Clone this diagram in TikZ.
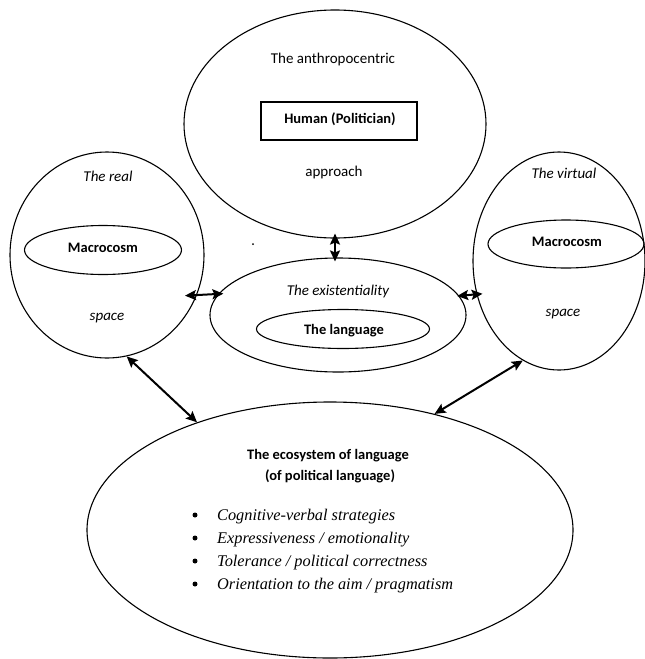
\documentclass[tikz,border=0pt]{standalone}
\usepackage{fontspec}
\setmainfont{Carlito}
\newfontfamily\tnr{Liberation Serif}
\usetikzlibrary{shapes.geometric,arrows.meta}
\begin{document}
\begin{tikzpicture}[x=1pt,y=-1pt,
  oval/.style={draw, ellipse, line width=1.1pt, inner sep=0pt},
  lbl/.style={anchor=base, inner sep=0pt, font=\fontsize{15}{18}\selectfont},
  blbl/.style={anchor=base, inner sep=0pt, font=\fontsize{14.5}{18}\selectfont\bfseries},
  ilbl/.style={anchor=base, inner sep=0pt, font=\fontsize{15}{18}\selectfont\itshape},
  item/.style={anchor=base west, inner sep=0pt, font=\tnr\fontsize{16.3}{19}\selectfont\itshape},
  bul/.style={circle, fill, inner sep=0pt, minimum size=5pt},
  link/.style={line width=2pt, {Stealth[length=11pt,width=10pt,inset=2pt]}-{Stealth[length=11pt,width=10pt,inset=2pt]}}
]
\useasboundingbox (0,0) rectangle (645,659);

% ellipses
\node[oval, minimum width=302pt, minimum height=228pt] (T) at (335,124) {};
\node[oval, minimum width=194pt, minimum height=206pt] (L) at (107,255) {};
\node[oval, minimum width=172pt, minimum height=218pt] (R) at (559,261) {};
\node[oval, minimum width=256pt, minimum height=114pt] (M) at (338,315) {};
\node[oval, minimum width=486pt, minimum height=256pt] (B) at (330,530) {};

% inner shapes
\node[draw, line width=1.1pt, minimum width=156pt, minimum height=38pt, inner sep=0pt] (H) at (339,121) {};
\node[oval, minimum width=157pt, minimum height=49pt] (LM) at (103,250) {};
\node[oval, minimum width=156pt, minimum height=48pt] (RM) at (566,244) {};
\node[oval, minimum width=173pt, minimum height=39pt] (ML) at (343,329) {};

% texts
\node[lbl] (t1) at (333,63) {The anthropocentric};
\node[blbl] (t2) at (340,123) {Human (Politician)};
\node[lbl] (t3) at (334,176) {approach};
\node[ilbl] (t4) at (108,181) {The real};
\node[blbl] (t5) at (103,252) {Macrocosm};
\node[ilbl] (t6) at (107,320) {space};
\node[ilbl] (t7) at (564,178) {The virtual};
\node[blbl] (t8) at (567,246) {Macrocosm};
\node[ilbl] (t9) at (563,316) {space};
\node[ilbl] (t10) at (338,295) {The existentiality};
\node[blbl] (t11) at (344,334) {The language};
\node[blbl] (t12) at (328,459) {The ecosystem of language};
\node[blbl] (t13) at (330,480) {(of political language)};

\node[bul] (b1) at (195,515) {};
\node[bul] (b2) at (195,538) {};
\node[bul] (b3) at (195,561) {};
\node[bul] (b4) at (195,584) {};
\node[item] (i1) at (217,520) {Cognitive-verbal strategies};
\node[item] (i2) at (217,543) {Expressiveness / emotionality};
\node[item] (i3) at (217,566) {Tolerance / political correctness};
\node[item] (i4) at (217,589) {Orientation to the aim / pragmatism};

% stray dot
\fill (253,244) circle (1pt);

% connectors
\draw[link, shorten <=-5pt, shorten >=-4pt] (T.south) -- (T.south |- M.north);
\draw[link, shorten <=-12pt, shorten >=-5pt] (L.-24) -- (M.170);
\draw[link, shorten <=-2pt, shorten >=-6pt] (M.9.5) -- (R.202);
\draw[link] (L.-79) -- (B.141);
\draw[link] (R.-110) -- (B.48);
\end{tikzpicture}
\end{document}
